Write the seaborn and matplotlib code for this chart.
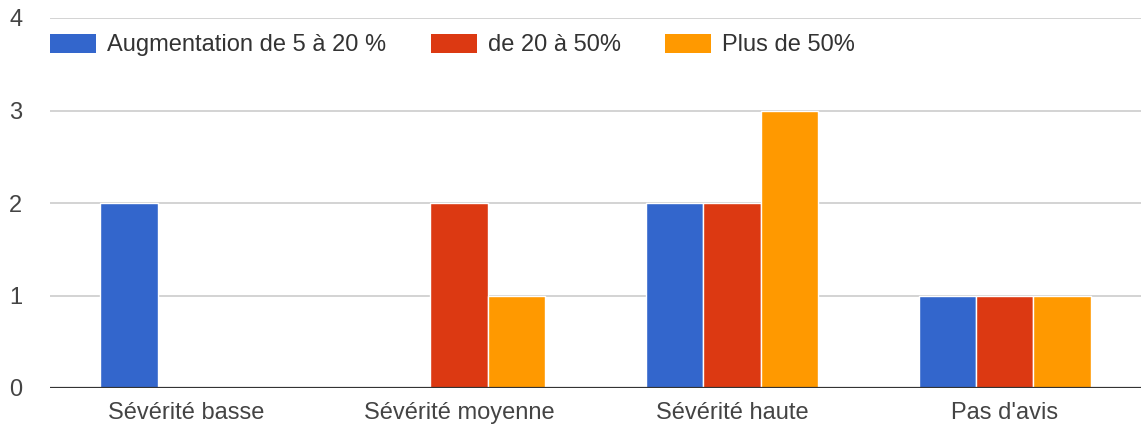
import matplotlib
matplotlib.use("Agg")
import matplotlib.pyplot as plt
import seaborn as sns
import pandas as pd
from matplotlib.patches import Patch

categories = ["Sévérité basse", "Sévérité moyenne", "Sévérité haute", "Pas d'avis"]
series_names = ["Augmentation de 5 à 20 %", "de 20 à 50%", "Plus de 50%"]
low_increase = [2, 0, 2, 1]
mid_increase = [0, 2, 2, 1]
high_increase = [0, 1, 3, 1]
colors = ["#3366CC", "#DC3912", "#FF9900"]
y_ticks = [0, 1, 2, 3, 4]

rows = []
for name, values in zip(series_names, [low_increase, mid_increase, high_increase]):
    for cat, v in zip(categories, values):
        rows.append({"categorie": cat, "serie": name, "valeur": v})
df = pd.DataFrame(rows)

sns.set_theme(style="white")
plt.rcParams["font.family"] = ["Liberation Sans", "DejaVu Sans"]

fig = plt.figure(figsize=(11.41, 4.30), dpi=100)
ax = fig.add_axes([50 / 1141, 1 - 388 / 430, 1 - 50 / 1141, 370 / 430])

sns.barplot(data=df, x="categorie", y="valeur", hue="serie",
            order=categories, hue_order=series_names, palette=colors,
            width=0.63, saturation=1, edgecolor="white", linewidth=1,
            errorbar=None, legend=False, ax=ax, zorder=3)

ax.set_xlim(-0.5, 3.5)
ax.set_ylim(0, 4)
ax.set_yticks(y_ticks)
for t in y_ticks[1:]:
    ax.axhline(t, color="#cccccc", linewidth=1.2, zorder=1)
ax.axhline(0, color="#333333", linewidth=1.6, zorder=5)

fs = 17
for s in ax.spines.values():
    s.set_visible(False)
ax.set_xlabel("")
ax.set_ylabel("")
ax.tick_params(axis="y", length=0, pad=20, labelsize=fs, labelcolor="#444444")
ax.tick_params(axis="x", length=0, pad=10, labelsize=fs, labelcolor="#444444")
for lbl in ax.get_yticklabels():
    lbl.set_horizontalalignment("right")

handles = [Patch(facecolor=c, edgecolor="none") for c in colors]
ax.legend(handles, series_names, loc="center left", bbox_to_anchor=(0.0, 0.927),
          ncol=3, frameon=False, fontsize=fs, handlelength=1.95, handleheight=0.85,
          handletextpad=0.47, columnspacing=1.88, borderaxespad=0, borderpad=0,
          labelcolor="#333333")

fig.savefig("out.png", dpi=100, facecolor="white")
